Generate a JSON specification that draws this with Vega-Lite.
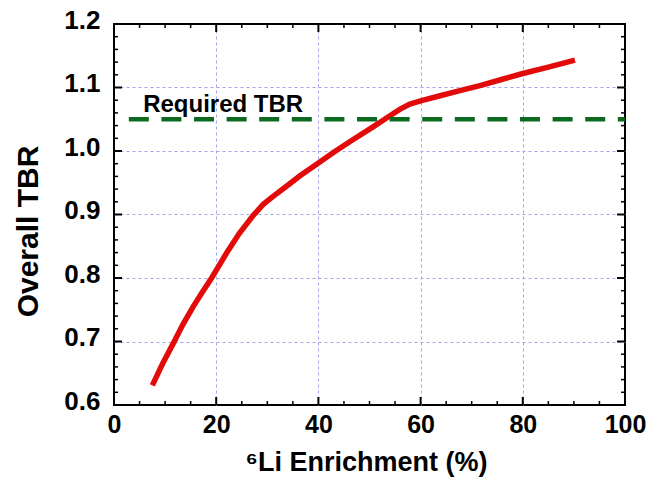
{
  "$schema": "https://vega.github.io/schema/vega-lite/v6.json",
  "width": 511,
  "height": 381,
  "autosize": {"type": "none"},
  "padding": {"left": 114, "top": 24, "right": 41, "bottom": 73},
  "background": "white",
  "config": {"view": {"stroke": "black", "strokeWidth": 2}},
  "datasets": {
    "curve": [
      {"x": 7.5, "y": 0.631}, {"x": 9.5, "y": 0.665}, {"x": 11.6, "y": 0.697},
      {"x": 13.5, "y": 0.727}, {"x": 15.5, "y": 0.755}, {"x": 17.3, "y": 0.778},
      {"x": 19.1, "y": 0.8}, {"x": 22.0, "y": 0.839}, {"x": 24.5, "y": 0.87},
      {"x": 27.3, "y": 0.899}, {"x": 29.2, "y": 0.916}, {"x": 31.2, "y": 0.929},
      {"x": 33.5, "y": 0.943}, {"x": 36.4, "y": 0.961}, {"x": 40.0, "y": 0.981},
      {"x": 43.0, "y": 0.998}, {"x": 46.2, "y": 1.015}, {"x": 50.7, "y": 1.038},
      {"x": 53.7, "y": 1.054}, {"x": 56.0, "y": 1.066}, {"x": 57.9, "y": 1.074},
      {"x": 60.0, "y": 1.079}, {"x": 63.8, "y": 1.087}, {"x": 67.7, "y": 1.095},
      {"x": 71.6, "y": 1.103}, {"x": 76.0, "y": 1.113}, {"x": 80.0, "y": 1.122},
      {"x": 85.0, "y": 1.132}, {"x": 90.2, "y": 1.143}
    ],
    "ref": [{"x": 2.9, "x2": 100, "y": 1.05}],
    "label": [{"x": 5.7, "y": 1.062, "label": "Required TBR"}],
    "xmajor": [{"v": 0}, {"v": 20}, {"v": 40}, {"v": 60}, {"v": 80}, {"v": 100}],
    "xminor": [{"v": 5}, {"v": 10}, {"v": 15}, {"v": 25}, {"v": 30}, {"v": 35}, {"v": 45}, {"v": 50}, {"v": 55}, {"v": 65}, {"v": 70}, {"v": 75}, {"v": 85}, {"v": 90}, {"v": 95}],
    "ymajor": [{"v": 0.6}, {"v": 0.7}, {"v": 0.8}, {"v": 0.9}, {"v": 1.0}, {"v": 1.1}, {"v": 1.2}],
    "yminor": [{"v": 0.62}, {"v": 0.64}, {"v": 0.66}, {"v": 0.68}, {"v": 0.72}, {"v": 0.74}, {"v": 0.76}, {"v": 0.78}, {"v": 0.82}, {"v": 0.84}, {"v": 0.86}, {"v": 0.88}, {"v": 0.92}, {"v": 0.94}, {"v": 0.96}, {"v": 0.98}, {"v": 1.02}, {"v": 1.04}, {"v": 1.06}, {"v": 1.08}, {"v": 1.12}, {"v": 1.14}, {"v": 1.16}, {"v": 1.18}]
  },
  "layer": [
    {
      "data": {"name": "curve"},
      "mark": {"type": "line", "color": "#e30a0a", "strokeWidth": 5.5, "strokeCap": "butt"},
      "encoding": {
        "x": {
          "field": "x", "type": "quantitative",
          "scale": {"domain": [0, 100], "nice": false, "zero": false},
          "axis": {
            "orient": "bottom", "values": [0, 20, 40, 60, 80, 100],
            "ticks": false, "domain": false,
            "grid": true, "gridColor": "#a4a4f0", "gridDash": [3, 3], "gridWidth": 1,
            "gridOpacity": {"condition": {"test": "datum.value === 0 || datum.value === 100", "value": 0}, "value": 1},
            "labelFont": "Liberation Sans", "labelFontWeight": "bold", "labelFontSize": 25,
            "labelColor": "black", "labelPadding": 7, "labelFlush": false, "labelOverlap": false,
            "title": "⁶Li Enrichment (%)", "titleFont": "Liberation Sans", "titleFontWeight": "bold",
            "titleFontSize": 27, "titleColor": "black", "titleX": 252, "titleY": 65,
            "titleBaseline": "alphabetic", "titleAlign": "center"
          }
        },
        "y": {
          "field": "y", "type": "quantitative",
          "scale": {"domain": [0.6, 1.2], "nice": false, "zero": false},
          "axis": {
            "orient": "left", "values": [0.6, 0.7, 0.8, 0.9, 1.0, 1.1, 1.2], "format": ".1f",
            "ticks": false, "domain": false,
            "grid": true, "gridColor": "#a4a4f0", "gridDash": [3, 3], "gridWidth": 1,
            "gridOpacity": {"condition": {"test": "datum.value < 0.65 || datum.value > 1.15", "value": 0}, "value": 1},
            "labelFont": "Liberation Sans", "labelFontWeight": "bold", "labelFontSize": 26,
            "labelColor": "black", "labelPadding": 14, "labelOffset": -4, "labelFlush": false, "labelOverlap": false,
            "title": "Overall TBR", "titleFont": "Liberation Sans", "titleFontWeight": "bold",
            "titleFontSize": 30, "titleColor": "black", "titleX": -77, "titleY": 207,
            "titleBaseline": "alphabetic", "titleAlign": "center", "titleAngle": -90
          }
        }
      }
    },
    {
      "data": {"name": "xmajor"},
      "mark": {"type": "tick", "orient": "vertical", "size": 8, "thickness": 2, "color": "black", "opacity": 1, "yOffset": -4},
      "encoding": {"x": {"field": "v", "type": "quantitative"}, "y": {"datum": 0.6, "type": "quantitative"}}
    },
    {
      "data": {"name": "xmajor"},
      "mark": {"type": "tick", "orient": "vertical", "size": 8, "thickness": 2, "color": "black", "opacity": 1, "yOffset": 4},
      "encoding": {"x": {"field": "v", "type": "quantitative"}, "y": {"datum": 1.2, "type": "quantitative"}}
    },
    {
      "data": {"name": "xminor"},
      "mark": {"type": "tick", "orient": "vertical", "size": 4, "thickness": 1.5, "color": "black", "opacity": 1, "yOffset": -2},
      "encoding": {"x": {"field": "v", "type": "quantitative"}, "y": {"datum": 0.6, "type": "quantitative"}}
    },
    {
      "data": {"name": "xminor"},
      "mark": {"type": "tick", "orient": "vertical", "size": 4, "thickness": 1.5, "color": "black", "opacity": 1, "yOffset": 2},
      "encoding": {"x": {"field": "v", "type": "quantitative"}, "y": {"datum": 1.2, "type": "quantitative"}}
    },
    {
      "data": {"name": "ymajor"},
      "mark": {"type": "tick", "orient": "horizontal", "size": 8, "thickness": 2, "color": "black", "opacity": 1, "xOffset": 4},
      "encoding": {"y": {"field": "v", "type": "quantitative"}, "x": {"datum": 0, "type": "quantitative"}}
    },
    {
      "data": {"name": "ymajor"},
      "mark": {"type": "tick", "orient": "horizontal", "size": 8, "thickness": 2, "color": "black", "opacity": 1, "xOffset": -4},
      "encoding": {"y": {"field": "v", "type": "quantitative"}, "x": {"datum": 100, "type": "quantitative"}}
    },
    {
      "data": {"name": "yminor"},
      "mark": {"type": "tick", "orient": "horizontal", "size": 4, "thickness": 1.5, "color": "black", "opacity": 1, "xOffset": 2},
      "encoding": {"y": {"field": "v", "type": "quantitative"}, "x": {"datum": 0, "type": "quantitative"}}
    },
    {
      "data": {"name": "yminor"},
      "mark": {"type": "tick", "orient": "horizontal", "size": 4, "thickness": 1.5, "color": "black", "opacity": 1, "xOffset": -2},
      "encoding": {"y": {"field": "v", "type": "quantitative"}, "x": {"datum": 100, "type": "quantitative"}}
    },
    {
      "data": {"name": "ref"},
      "mark": {"type": "rule", "color": "#0b6a1f", "strokeWidth": 4.5, "strokeDash": [20, 12.6]},
      "encoding": {
        "x": {"field": "x", "type": "quantitative"},
        "x2": {"field": "x2"},
        "y": {"field": "y", "type": "quantitative"}
      }
    },
    {
      "data": {"name": "label"},
      "mark": {"type": "text", "align": "left", "baseline": "alphabetic", "font": "Liberation Sans", "fontWeight": "bold", "fontSize": 24, "color": "black"},
      "encoding": {
        "x": {"field": "x", "type": "quantitative"},
        "y": {"field": "y", "type": "quantitative"},
        "text": {"field": "label"}
      }
    }
  ]
}
